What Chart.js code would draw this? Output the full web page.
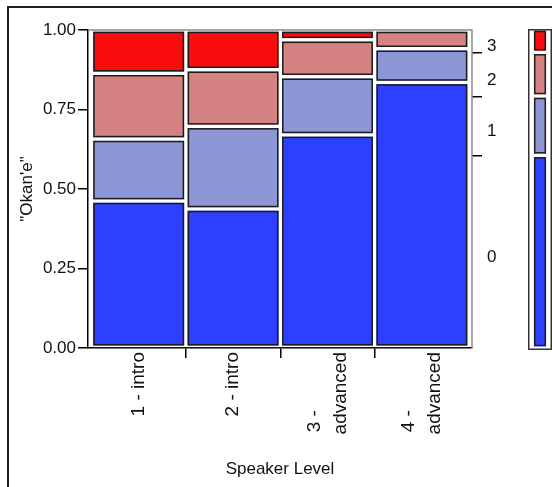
<!DOCTYPE html>
<html>
<head>
<meta charset="utf-8">
<title>Okan'e by Speaker Level</title>
<script src="https://cdn.jsdelivr.net/npm/chart.js@4.4.1/dist/chart.umd.min.js"></script>
<style>
  html, body { margin: 0; padding: 0; background: #fff; }
  body { width: 552px; height: 487px; position: relative; overflow: hidden; }
  #frame { position: absolute; left: 7px; top: 6px; width: 600px; height: 600px;
           border-left: 2px solid #222; border-top: 2px solid #222; }
  #mosaic { position: absolute; left: 0; top: 0; width: 552px; height: 487px; }
  #marginal { position: absolute; left: 528px; top: 29px; width: 24px; height: 321px; }
</style>
</head>
<body>
<div id="frame"></div>
<canvas id="mosaic" width="552" height="487"></canvas>
<canvas id="marginal" width="24" height="321"></canvas>
<script>
const speakerLevels = [['1 - intro'], ['2 - intro'], ['3 -', 'advanced'], ['4 -', 'advanced']];
const okaneLevels = ['0', '1', '2', '3'];

// share of each Okan'e level inside each speaker level
const share0 = [0.462, 0.437, 0.670, 0.835];
const share1 = [0.195, 0.260, 0.183, 0.106];
const share2 = [0.207, 0.178, 0.116, 0.059];
const share3 = [0.136, 0.125, 0.031, 0.000];

// overall share (the thin bar on the right)
const overallShare = [0.604, 0.186, 0.137, 0.073];

const levelColors = ['#2d40ff', '#8d97d5', '#d48282', '#fc0d0d'];

const FONT = '"Liberation Sans", Arial, sans-serif';
const TEXT = '#111';
const X_MIN = -0.537, X_MAX = 3.531;
const LABEL_SIZE = 19, LABEL_LINE = 26;
const GAP = 1.75;

const seriesByLevel = [share0, share1, share2, share3];

// cumulative boundaries of the overall bar -> right axis ticks / label spots
const bounds = [];
overallShare.reduce((acc, v) => { bounds.push(acc + v); return acc + v; }, 0);
const rightTicks = bounds.slice(0, -1);
const rightLabels = overallShare.map((v, k) => bounds[k] - v / 2);

const measure = document.createElement('canvas').getContext('2d');
function padLines(lines) {
  measure.font = LABEL_SIZE + 'px ' + FONT;
  const widest = Math.max(...lines.map(l => measure.measureText(l).width));
  const space = measure.measureText(' ').width;
  return lines.map(l => l + ' '.repeat(Math.round((widest - measure.measureText(l).width) / space)));
}

// dark outline inside the white border of every tile
const outlinePlugin = {
  id: 'outline',
  afterDatasetsDraw(chart) {
    const ctx = chart.ctx;
    ctx.save();
    ctx.strokeStyle = '#1c1c1c';
    ctx.lineWidth = 1.5;
    chart.data.datasets.forEach((ds, di) => {
      chart.getDatasetMeta(di).data.forEach(bar => {
        const p = bar.getProps(['x', 'y', 'base', 'width'], true);
        const top = Math.min(p.y, p.base);
        const h = Math.abs(p.base - p.y);
        const inset = GAP + 0.75;
        if (h <= 2 * inset) return;
        ctx.strokeRect(p.x - p.width / 2 + inset, top + inset, p.width - 2 * inset, h - 2 * inset);
      });
    });
    ctx.restore();
  }
};

const plotBox = {
  id: 'plotBox',
  afterDraw(chart) {
    const { ctx, chartArea: a } = chart;
    ctx.save();
    ctx.strokeStyle = '#8a8a8a';
    ctx.lineWidth = 1.5;
    ctx.beginPath();
    ctx.moveTo(a.left, a.top);
    ctx.lineTo(a.right, a.top);
    ctx.lineTo(a.right, a.bottom);
    ctx.stroke();
    ctx.restore();
  }
};

const canvasBox = {
  id: 'canvasBox',
  afterDraw(chart) {
    const ctx = chart.ctx;
    ctx.save();
    ctx.strokeStyle = '#333';
    ctx.lineWidth = 1.5;
    ctx.strokeRect(0.75, 0.75, chart.width - 1.5, chart.height - 1.5);
    ctx.restore();
  }
};

const tileStyle = {
  borderColor: '#fff',
  borderWidth: GAP,
  borderSkipped: false,
  inflateAmount: 0,
  categoryPercentage: 1
};

const tickFont = { family: FONT, size: 17 };

new Chart(document.getElementById('mosaic'), {
  type: 'bar',
  data: {
    datasets: okaneLevels.map((lv, k) => ({
      label: lv,
      data: seriesByLevel[k].map((v, i) => ({ x: i, y: v })),
      backgroundColor: levelColors[k],
      xAxisID: 'x',
      yAxisID: 'y',
      barPercentage: 1,
      ...tileStyle
    }))
  },
  options: {
    responsive: false,
    animation: false,
    layout: { padding: { top: 30, left: 0, right: 0, bottom: 0 } },
    plugins: { legend: { display: false }, tooltip: { enabled: false } },
    scales: {
      x: {
        type: 'linear', position: 'bottom', min: X_MIN, max: X_MAX,
        stacked: true, offset: false, weight: 0,
        afterBuildTicks: a => { a.ticks = speakerLevels.slice(1).map((_, i) => ({ value: i + 0.5 })); },
        afterFit: a => { a.height = 0; },
        ticks: { display: false },
        grid: { offset: false, drawOnChartArea: false, tickLength: 10, color: '#000', lineWidth: 1.5 },
        border: { color: '#000', width: 1.5 }
      },
      xl: {
        type: 'linear', position: 'bottom', min: X_MIN, max: X_MAX, offset: false, weight: 1,
        afterBuildTicks: a => {
          const unit = a.width / (X_MAX - X_MIN);
          a.ticks = speakerLevels.map((lines, i) => ({ value: i - (lines.length - 1) * LABEL_LINE / 2 / unit }));
        },
        afterFit: a => { a.height = 139; },
        grid: { display: false, drawTicks: false, offset: false },
        border: { display: false },
        ticks: {
          autoSkip: false, minRotation: 90, maxRotation: 90, padding: 4, color: TEXT,
          font: { family: FONT, size: LABEL_SIZE, lineHeight: LABEL_LINE / LABEL_SIZE },
          callback: (v, i) => padLines(speakerLevels[i])
        },
        title: { display: true, text: 'Speaker Level', color: TEXT, font: tickFont, padding: { top: 0, bottom: 7 } }
      },
      y: {
        position: 'left', min: 0, max: 1, stacked: true,
        afterFit: a => { a.width = 88; },
        ticks: { stepSize: 0.25, padding: 2, color: TEXT, font: tickFont, callback: v => v.toFixed(2) },
        grid: { drawOnChartArea: false, tickLength: 10, color: '#000', lineWidth: 1.5 },
        border: { color: '#000', width: 1.5 },
        title: { display: true, text: '"Okan\'e"', color: TEXT, font: tickFont, padding: { top: 17, bottom: 0 } }
      },
      yr: {
        position: 'right', min: 0, max: 1, weight: 0,
        afterBuildTicks: a => { a.ticks = rightTicks.map(v => ({ value: v })); },
        afterFit: a => { a.width = 0; },
        ticks: { display: false },
        grid: { drawOnChartArea: false, tickLength: 10, color: '#000', lineWidth: 1.5 },
        border: { display: false }
      },
      yl: {
        position: 'right', min: 0, max: 1, weight: 1,
        afterBuildTicks: a => { a.ticks = rightLabels.map(v => ({ value: v })); },
        afterFit: a => { a.width = 80; },
        ticks: { padding: 15, labelOffset: 5, color: TEXT, font: tickFont, callback: (v, i) => okaneLevels[i] },
        grid: { display: false, drawTicks: false },
        border: { display: false }
      }
    }
  },
  plugins: [outlinePlugin, plotBox]
});

// overall distribution bar
new Chart(document.getElementById('marginal'), {
  type: 'bar',
  data: {
    labels: ['all'],
    datasets: okaneLevels.map((lv, k) => ({
      label: lv,
      data: [overallShare[k]],
      backgroundColor: levelColors[k],
      barPercentage: 0.65,
      ...tileStyle
    }))
  },
  options: {
    responsive: false,
    animation: false,
    layout: { padding: { top: 0, bottom: 2, left: 0, right: 0 } },
    plugins: { legend: { display: false }, tooltip: { enabled: false } },
    scales: {
      x: { display: false, stacked: true },
      y: { display: false, stacked: true, min: 0, max: 1 }
    }
  },
  plugins: [outlinePlugin, canvasBox]
});
</script>
</body>
</html>
